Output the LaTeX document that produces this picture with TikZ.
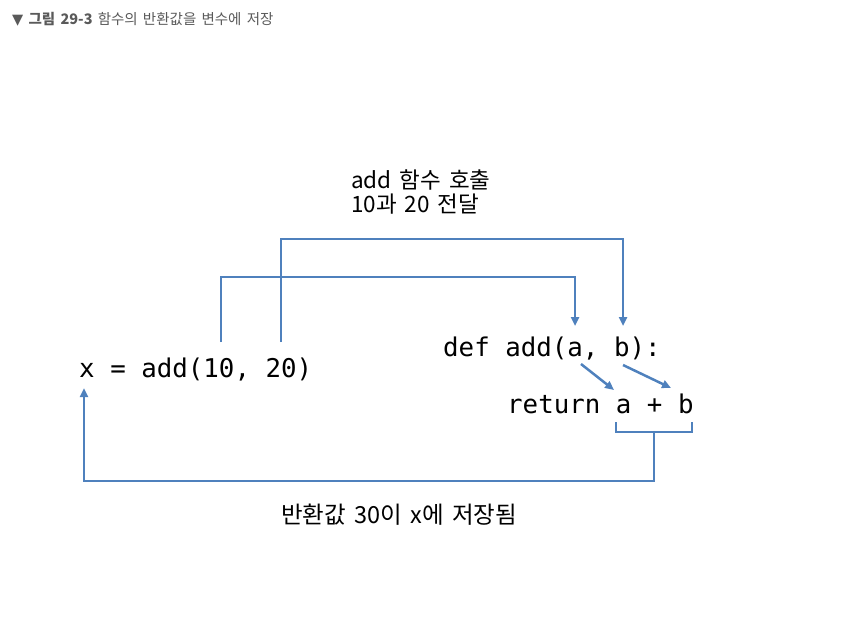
\documentclass[tikz,border=0pt]{standalone}
\usepackage{fontspec}
\setmainfont{Noto Sans CJK KR}[WordSpace=1.6]
\setmonofont{DejaVu Sans Mono}
\newfontfamily\symfont{DejaVu Sans}
\usetikzlibrary{arrows.meta}
\definecolor{lineblue}{RGB}{79,129,189}
\definecolor{titlegray}{RGB}{90,90,90}

\begin{document}
\begin{tikzpicture}[x=1pt,y=-1pt,
    link/.style={draw=lineblue,line width=2.5pt},
    arr/.style={link,-{Triangle[length=9pt,width=8pt]}},
    code/.style={font=\ttfamily\fontsize{25.8}{30}\selectfont,inner sep=0pt,anchor=base west},
    note/.style={font=\fontsize{22.5}{26}\selectfont,inner sep=0pt,anchor=base west}]
  \useasboundingbox (0,0) rectangle (853,628);

  % Title
  \node[anchor=base west,inner sep=0pt,text=titlegray,font=\fontsize{14.5}{17}\selectfont]
    (title) at (12,25) {{\symfont ▼} \textbf{그림 29-3} 함수의 반환값을 변수에 저장};

  % Code
  \node[code] (call) at (79,377) {x = add(10, 20)};
  \node[code] (def) at (443,356) {def add(a, b):};
  \node[code] (ret) at (507,413) {return a + b};

  % Labels
  \node[note] (callnote) at (351,189) {add 함수 호출};
  \node[note] (passnote) at (351,213) {10과 20 전달};
  \node[note,font=\fontsize{23.5}{28}\selectfont] (savenote) at (281,523) {반환값 30이 x에 저장됨};

  % Argument passing
  \coordinate (arg10) at (221,342);
  \coordinate (arg20) at (281,342);
  \coordinate (para) at (575,326);
  \coordinate (parb) at (623,326);
  \draw[arr] (arg10) -- (221,277) -| (para);
  \draw[arr] (arg20) -- (281,239) -| (parb);

  \coordinate (defa) at (581,364);
  \coordinate (defb) at (623,365);
  \coordinate (reta) at (614,390);
  \coordinate (retb) at (671,388);
  \draw[arr] (defa) -- (reta);
  \draw[arr] (defb) -- (retb);

  % Return value
  \coordinate (bral) at (616,422);
  \coordinate (brar) at (692,422);
  \coordinate (bramid) at (654,432);
  \coordinate (xvar) at (84,388);
  \draw[link] (bral) |- (brar |- bramid) -- (brar);
  \draw[arr] (bramid) |- (84,481) -- (xvar);
\end{tikzpicture}
\end{document}
